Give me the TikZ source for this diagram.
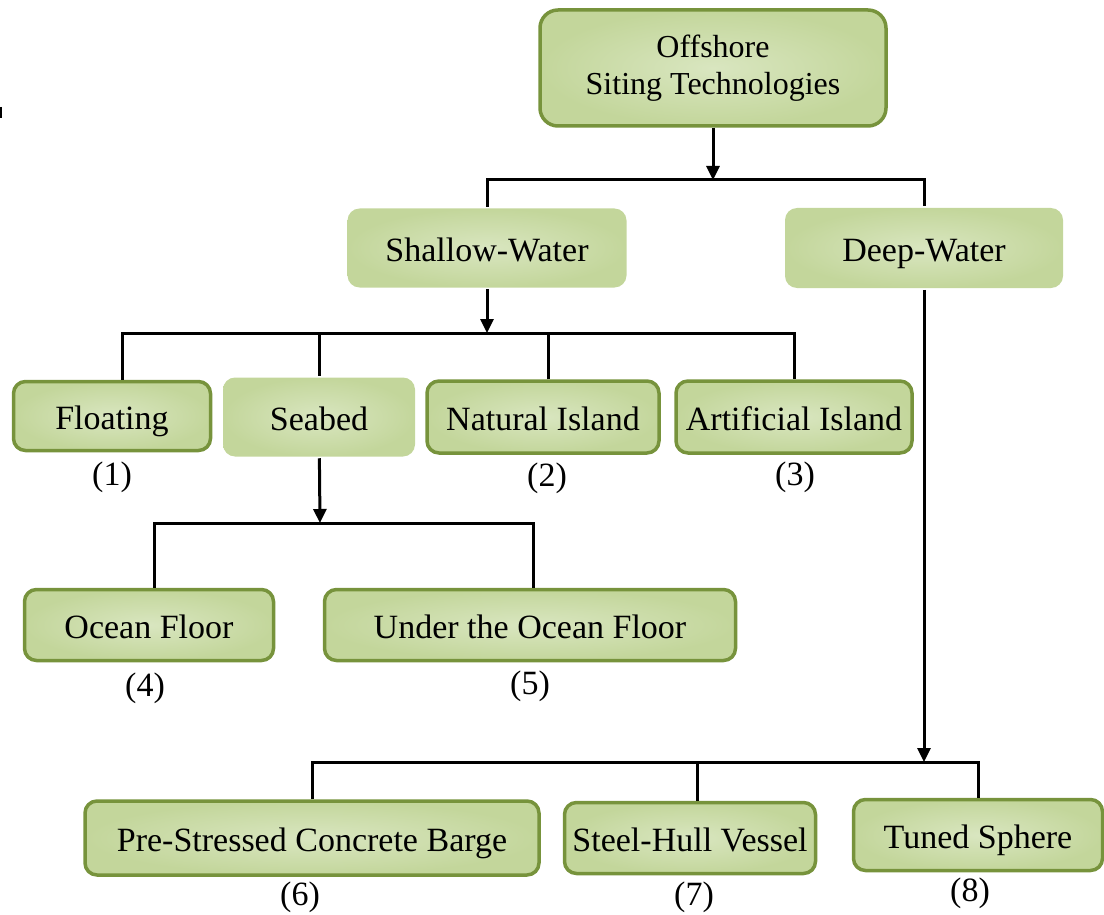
\documentclass[tikz,border=0pt]{standalone}
\usepackage{fontspec}
\setmainfont{Liberation Serif}
\usetikzlibrary{arrows.meta}
\definecolor{boxline}{HTML}{77933C}
\definecolor{boxin}{HTML}{D9E6C0}
\definecolor{boxout}{HTML}{C3D69B}

\begin{document}
\begin{tikzpicture}[x=1pt,y=-1pt,line width=3pt,
	box/.style={rectangle,rounded corners=12pt,draw=boxline,line width=3.5pt,inner color=boxin,outer color=boxout,align=center,font=\fontsize{34}{40}\selectfont,text height=26pt,text depth=0pt},
	bare/.style={box,draw=none},
	num/.style={font=\fontsize{34}{40}\selectfont},
	arr/.style={-{Triangle[length=14pt,width=13pt]}}]
	\useasboundingbox (0,0) rectangle (1104,915);
	\draw[line width=1.5pt] (1,107) -- (1,118);
	% boxes
	\node[box,rounded corners=18pt,minimum width=346pt,minimum height=116pt,font=\fontsize{32}{37}\selectfont,text height=,text depth=] (top) at (713,68) {Offshore\\Siting Technologies};
	\node[bare,minimum width=279pt,minimum height=79pt] (shallow) at (487,248) {Shallow-Water};
	\node[bare,minimum width=278pt,minimum height=80pt] (deep) at (924,248) {Deep-Water};
	\node[box,minimum width=197pt,minimum height=69pt] (floating) at (112,416) {Floating};
	\node[bare,minimum width=192pt,minimum height=79pt] (seabed) at (319,417) {Seabed};
	\node[box,minimum width=232pt,minimum height=72pt] (natural) at (543,417) {Natural Island};
	\node[box,minimum width=236pt,minimum height=72pt] (artificial) at (794,417) {Artificial Island};
	\node[box,minimum width=249pt,minimum height=71pt] (ocean) at (149,625) {Ocean Floor};
	\node[box,minimum width=411pt,minimum height=71pt] (under) at (530,625) {Under the Ocean Floor};
	\node[box,minimum width=454pt,minimum height=74pt] (barge) at (312,838) {Pre-Stressed Concrete Barge};
	\node[box,minimum width=251pt,minimum height=71pt] (steel) at (690,838) {Steel-Hull Vessel};
	\node[box,minimum width=249pt,minimum height=71pt] (sphere) at (978,835) {Tuned Sphere};
	% numbers
	\node[num] (n1) at (112,477) {(1)};
	\node[num] (n2) at (547,478) {(2)};
	\node[num] (n3) at (795,477) {(3)};
	\node[num] (n4) at (145,688) {(4)};
	\node[num] (n5) at (530,686) {(5)};
	\node[num] (n6) at (300,897) {(6)};
	\node[num] (n7) at (694,897) {(7)};
	\node[num] (n8) at (970,893) {(8)};
	% joints
	\coordinate (j0) at (713,180);
	\coordinate (j1) at (487,333);
	\coordinate (j2) at (320,523);
	\coordinate (j3) at (924,762);
	% connectors
	\draw[arr] (top) -- (j0);
	\draw (shallow.north) |- (j0) -| (deep.north);
	\draw[arr] (shallow) -- (j1);
	\draw ([xshift=10pt]floating.north) |- (j1) -| (artificial.north);
	\draw (seabed.north) -- (seabed.north |- j1);
	\draw ([xshift=5pt]natural.north) -- ([xshift=5pt]natural.north |- j1);
	\draw[arr] (seabed) -- (j2);
	\draw ([xshift=5pt]ocean.north) |- (j2) -| ([xshift=3pt]under.north);
	\draw[arr] (deep) -- (j3);
	\draw (barge.north) |- (j3) -| (sphere.north);
	\draw ([xshift=7pt]steel.north) -- ([xshift=7pt]steel.north |- j3);
\end{tikzpicture}
\end{document}
